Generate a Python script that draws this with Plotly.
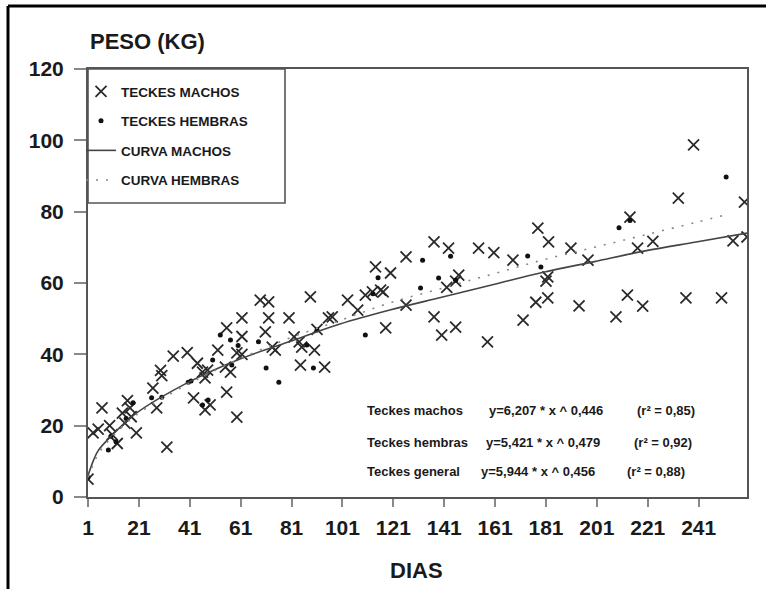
import plotly.graph_objects as go

# ---------------- data ----------------
machos_dias = [1, 3, 5, 6.5, 9.5, 10.5, 12.5, 14.5, 15.5, 16.5, 17.5, 20, 18,
               26.5, 28, 29.5, 30, 32, 34.5, 40, 44, 46, 42.5, 47, 49, 47, 48,
               52, 55.5, 55, 57, 55.5, 59.5, 59.5, 61.5, 61.5, 61.5, 68.7, 72,
               72, 70.7, 73.4, 74.6, 80, 82, 84, 85, 84.5, 88.4, 90, 94, 91,
               95.5, 97, 103, 107, 110, 112.8, 117, 114, 119.9, 118, 116,
               126, 126, 137, 142.7, 142, 146.7, 145.5, 137, 140, 145.5,
               154.5, 160.5, 168, 158, 177.8, 182, 181.7, 181, 172, 177,
               181.7, 190.8, 197.5, 194, 208.5, 213, 219, 214, 217, 223,
               233, 239, 236, 250, 259, 254.5, 260]
machos_kg = [5, 18, 19, 25, 20, 17.5, 15, 23.5, 20.7, 27, 25, 18, 22.5,
             30.5, 25, 35.5, 34, 14, 39.5, 40.5, 37.5, 35, 27.8, 24.4, 25.8, 33.4, 35.6,
             41.2, 47.4, 36.4, 35, 29.4, 40.4, 22.4, 50.2, 45, 40, 55.2, 54.7,
             50.2, 46.3, 42, 41.2, 50.2, 44.9, 43.5, 42, 37, 56.1, 41.2, 36.4, 47,
             50.2, 50.5, 55.2, 52.4, 56.6, 57.5, 57.5, 64.5, 62.8, 47.4, 58,
             67.3, 53.8, 71.5, 69.8, 58.8, 62.2, 60.5, 50.5, 45.4, 47.6,
             69.8, 68.5, 66.4, 43.5, 75.4, 71.5, 61.7, 60.5, 49.6, 54.6,
             55.8, 69.8, 66.4, 53.6, 50.5, 56.6, 53.5, 78.5, 69.8, 71.7,
             83.8, 98.7, 55.8, 55.8, 82.7, 71.8, 72.9]

hembras_dias = [1, 9, 10, 12, 16, 18.7, 26, 30, 40.4, 41.5, 46, 48.2, 50, 53,
                57, 57.5, 60, 68, 71, 76, 87, 89.6, 91, 110, 113, 115, 131.7,
                132.5, 138.8, 143.5, 145.5, 173.8, 179, 209.7, 214, 251.8]
hembras_kg = [5.5, 13.2, 17, 15.5, 22, 26.4, 27.8, 28, 32.2, 32.5, 25.8, 27.2,
              38.4, 45.4, 44, 37, 42.5, 43.5, 36.2, 32.2, 42.6, 36.2, 46.8,
              45.4, 57, 61.5, 58.6, 66.4, 61.4, 67.5, 60.8, 67.6, 64.5, 75.5,
              77.5, 89.7]

curva_machos_dias = [1, 3, 5, 10, 20, 40, 60, 80, 100, 120, 140, 160, 180, 200, 220, 240, 260]
curva_machos_kg = [6, 10, 13, 17, 23.5, 32, 38.5, 43.5, 48.5, 52.5, 56, 59.5, 63, 66, 69, 71.5, 74]

curva_hembras_dias = [1, 3, 5, 10, 20, 40, 60, 80, 100, 120, 140, 160, 180, 200, 220, 240, 251]
curva_hembras_kg = [5.5, 9, 12, 16.5, 23, 31.5, 38.5, 44.5, 49.5, 54.5, 58.5, 62.5, 66.5, 70, 73.5, 77, 79]

x_ticks = [1, 21, 41, 61, 81, 101, 121, 141, 161, 181, 201, 221, 241]
y_ticks = [0, 20, 40, 60, 80, 100, 120]

ecuaciones = [
    ("Teckes machos", "y=6,207 * x ^ 0,446", "(r² = 0,85)"),
    ("Teckes hembras", "y=5,421 * x ^ 0,479", "(r² = 0,92)"),
    ("Teckes general", "y=5,944 * x ^ 0,456", "(r² = 0,88)"),
]

# ---------------- figure ----------------
FONT = "Liberation Sans, Arial, sans-serif"
INK = "#1a1a1a"
W, H = 766, 589
L, R, T, B = 88, 19, 69, 92
PW, PH = W - L - R, H - T - B


def px_x(p):
    return (p - L) / PW


def px_y(p):
    return (H - B - p) / PH


fig = go.Figure()

fig.add_trace(go.Scatter(
    x=machos_dias, y=machos_kg, mode="markers", name="TECKES MACHOS",
    legendgroup="a",
    marker=dict(symbol="x-thin", size=11, line=dict(width=1.8, color="#2a2a2a"),
                color="#2a2a2a"),
))
fig.add_trace(go.Scatter(
    x=hembras_dias, y=hembras_kg, mode="markers", name="TECKES HEMBRAS",
    legendgroup="b",
    marker=dict(symbol="circle", size=5, color="#111111"),
))
fig.add_trace(go.Scatter(
    x=curva_machos_dias, y=curva_machos_kg, mode="lines", name="CURVA MACHOS",
    legendgroup="c", line=dict(color="#444444", width=1.6, shape="spline"),
))
fig.add_trace(go.Scatter(
    x=curva_hembras_dias, y=curva_hembras_kg, mode="lines", name="CURVA HEMBRAS",
    legendgroup="d",
    line=dict(color="#888888", width=1.6, dash="2px,8px", shape="spline"),
))

axis_common = dict(
    showline=True, mirror=True, linecolor="#555555", linewidth=2,
    showgrid=False, zeroline=False, ticks="outside", tickcolor="#888888",
    tickwidth=1.5,
    tickfont=dict(family=FONT, size=21, color=INK, weight="bold"),
)

fig.update_xaxes(range=[1, 260], tickvals=x_ticks, ticklen=8,
                 ticklabelstandoff=3, **axis_common)
fig.update_yaxes(range=[0, 120], tickvals=y_ticks, ticklen=12,
                 ticklabelstandoff=6, **axis_common)

annotations = [
    dict(text="PESO (KG)", xref="paper", yref="paper", x=px_x(88), y=px_y(41),
         xanchor="left", yanchor="middle", showarrow=False,
         font=dict(family=FONT, size=22, color=INK, weight="bold")),
    dict(text="DIAS", xref="paper", yref="paper", x=px_x(416), y=px_y(570),
         xanchor="center", yanchor="middle", showarrow=False,
         font=dict(family=FONT, size=22, color=INK, weight="bold")),
]
ys = [410, 442, 471]
xs = [(365, 487, 635), (365, 484, 632), (365, 479, 625)]
for (lab, eq, r2), yy, (x1, x2, x3) in zip(ecuaciones, ys, xs):
    for txt, xx in ((lab, x1), (eq, x2), (r2, x3)):
        annotations.append(dict(
            text=txt, xref="paper", yref="paper", x=px_x(xx), y=px_y(yy),
            xanchor="left", yanchor="middle", showarrow=False,
            font=dict(family=FONT, size=13, color=INK, weight="bold")))

shapes = [
    # legend box
    dict(type="rect", xref="paper", yref="paper", x0=0, x1=px_x(285),
         y0=px_y(203), y1=1, line=dict(color="#555555", width=1.6)),
    # outer frame (top and left)
    dict(type="line", xref="paper", yref="paper", x0=px_x(8), x1=px_x(770),
         y0=px_y(6), y1=px_y(6), line=dict(color="#000000", width=3)),
    dict(type="line", xref="paper", yref="paper", x0=px_x(8), x1=px_x(8),
         y0=px_y(6), y1=px_y(595), line=dict(color="#000000", width=3)),
]

fig.update_layout(
    width=W, height=H, margin=dict(l=L, r=R, t=T, b=B),
    paper_bgcolor="white", plot_bgcolor="white",
    showlegend=True,
    legend=dict(x=px_x(81), y=px_y(76), xanchor="left", yanchor="top",
                bgcolor="rgba(0,0,0,0)", borderwidth=0, tracegroupgap=9,
                font=dict(family=FONT, size=13.5, color=INK, weight="bold"),
                itemwidth=30),
    annotations=annotations, shapes=shapes,
)

fig.write_html("out.html")
